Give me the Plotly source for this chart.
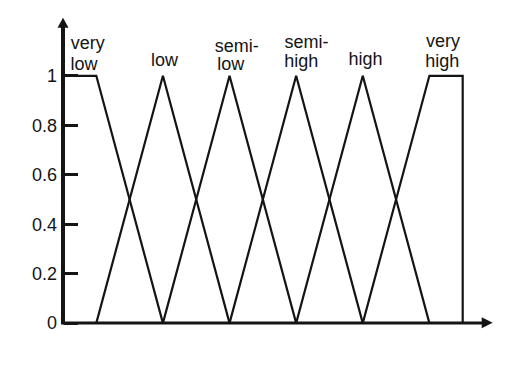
import plotly.graph_objects as go

# fuzzy sets of the BMI input (BMImin = 0, BMImax = 12)
terms = ["very<br>low", "low", "semi-<br>low", "semi-<br>high", "high", "very<br>high"]
term_x = [
    [0, 1, 3],
    [1, 3, 5],
    [3, 5, 7],
    [5, 7, 9],
    [7, 9, 11],
    [9, 11, 12, 12],
]
term_mu = [
    [1, 1, 0],
    [0, 1, 0],
    [0, 1, 0],
    [0, 1, 0],
    [0, 1, 0],
    [0, 1, 1, 0],
]
y_ticks = [0, 0.2, 0.4, 0.6, 0.8, 1]
bmi_min, bmi_max = 0, 12

INK = "#141414"
FONT = "Arial, Liberation Sans, sans-serif"
x_end, y_end = 12.9, 1.235

# where each text line of the labels is centred (data units)
label_x = [[0.74, 0.63], [3.05], [5.22, 5.04], [7.31, 7.15], [9.08], [11.41, 11.39]]
label_y = [[1.126, 1.041], [1.057], [1.114, 1.041], [1.130, 1.053], [1.061], [1.134, 1.053]]

fig = go.Figure()
# axis lines
fig.add_trace(go.Scatter(x=[0, 0], y=[-0.006, y_end - 0.035], mode="lines",
                         line=dict(color=INK, width=4), hoverinfo="skip", showlegend=False))
fig.add_trace(go.Scatter(x=[0, x_end - 0.25], y=[0, 0], mode="lines",
                         line=dict(color=INK, width=3), hoverinfo="skip", showlegend=False))

for xs, ys in zip(term_x, term_mu):
    fig.add_trace(go.Scatter(x=xs, y=ys, mode="lines", line=dict(color=INK, width=2.2),
                             hoverinfo="skip", showlegend=False))

line_txt, line_x, line_y = [], [], []
for name, lxs, lys in zip(terms, label_x, label_y):
    for t, lx, ly in zip(name.split("<br>"), lxs, lys):
        line_txt.append(t)
        line_x.append(lx)
        line_y.append(ly)
fig.add_trace(go.Scatter(x=line_x, y=line_y, text=line_txt, mode="text",
                         textposition="middle center", cliponaxis=False,
                         textfont=dict(size=18, color=INK, family=FONT),
                         hoverinfo="skip", showlegend=False))

# axis captions
fig.add_trace(go.Scatter(x=[-0.916], y=[1.251], text=["μ<sub>BMI</sub>"], mode="text",
                         textposition="middle center", cliponaxis=False,
                         textfont=dict(size=20, color=INK, family=FONT),
                         hoverinfo="skip", showlegend=False))
fig.add_trace(go.Scatter(x=[bmi_min + 0.105, bmi_max + 0.158], y=[-0.132, -0.132],
                         text=["BMI<sub><span style='font-size:9px'>min</span></sub>",
                               "BMI<sub><span style='font-size:9px'>max</span></sub>"],
                         mode="text", textposition="middle center", cliponaxis=False,
                         textfont=dict(size=18, color=INK, family=FONT),
                         hoverinfo="skip", showlegend=False))
fig.add_trace(go.Scatter(x=[13.37], y=[-0.075], text=["BMI"], mode="text",
                         textposition="middle center", cliponaxis=False,
                         textfont=dict(size=15, color=INK, family=FONT),
                         hoverinfo="skip", showlegend=False))

# arrow heads
fig.add_shape(type="path", xref="x", yref="y", xsizemode="pixel", ysizemode="pixel",
              xanchor=x_end, yanchor=0.001,
              path="M-11,-5.5 L-11,5.5 L0,0 Z", fillcolor=INK, line=dict(width=0))
fig.add_shape(type="path", xref="x", yref="y", xsizemode="pixel", ysizemode="pixel",
              xanchor=0.001, yanchor=y_end,
              path="M-5.5,-10 L5.5,-10 L0,0 Z", fillcolor=INK, line=dict(width=0))

# plot area: x = 0 at 63 px, y = 0 at 323 px
fig.update_layout(
    width=531, height=367, showlegend=False,
    margin=dict(l=53, r=35, t=14, b=34),
    paper_bgcolor="white", plot_bgcolor="white",
    xaxis=dict(range=[-0.3, 13.0], showgrid=False, zeroline=False, showline=False,
               showticklabels=False, ticks=""),
    yaxis=dict(range=[-0.04, 1.25], showgrid=False, zeroline=False, showline=False,
               anchor="free", position=10 / 443,
               tickvals=y_ticks, ticks="inside", ticklen=14, tickwidth=3, tickcolor=INK,
               ticklabelstandoff=6,
               tickfont=dict(size=18, color=INK, family=FONT)),
)

fig.write_html("out.html", config={"displayModeBar": False},
               post_script="document.body.style.margin='0px';")
